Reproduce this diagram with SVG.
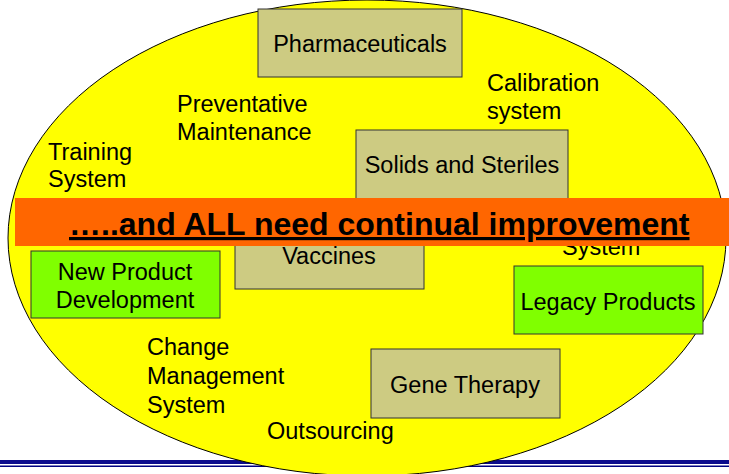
<svg xmlns="http://www.w3.org/2000/svg" width="729" height="474" viewBox="0 0 729 474">
<style>
text{font-family:"Liberation Sans",Arial,sans-serif;font-size:23.5px;fill:#000}
.c{text-anchor:middle}
.tan{fill:#CDCB82;stroke:#333;stroke-width:1}
.grn{fill:#80FF00;stroke:#333;stroke-width:1}
.ban{font-size:32px;font-weight:bold;text-decoration:underline}
</style>
<rect width="729" height="474" fill="#fff"/>
<g id="footer-lines">
<rect x="0" y="460" width="729" height="4" fill="#0B0B8C"/>
<rect x="0" y="465.5" width="729" height="1.5" fill="#000080"/>
</g>
<g id="ellipse">
<ellipse cx="367" cy="238" rx="359" ry="238" fill="#FFFF00" stroke="#000" stroke-width="1"/>
</g>
<g id="labels">
<text x="487" y="91">Calibration</text>
<text x="487" y="119">system</text>
<text x="177" y="112">Preventative</text>
<text x="177" y="140">Maintenance</text>
<text x="48" y="160">Training</text>
<text x="48" y="187">System</text>
<text x="562" y="255">System</text>
<text x="147" y="355">Change</text>
<text x="147" y="384">Management</text>
<text x="147" y="413">System</text>
<text x="267" y="439">Outsourcing</text>
</g>
<g id="pharmaceuticals">
<rect class="tan" x="258" y="9" width="204" height="68"/>
<text class="c" x="360" y="52">Pharmaceuticals</text>
</g>
<g id="solids">
<rect class="tan" x="356" y="130" width="212" height="85"/>
<text class="c" x="462" y="173">Solids and Steriles</text>
</g>
<g id="vaccines">
<rect class="tan" x="235" y="215" width="189" height="74"/>
<text class="c" x="329" y="264">Vaccines</text>
</g>
<g id="new-product">
<rect class="grn" x="31" y="251" width="189" height="67"/>
<text class="c" x="125" y="280">New Product</text>
<text class="c" x="125" y="308">Development</text>
</g>
<g id="legacy">
<rect class="grn" x="514" y="266" width="189" height="68"/>
<text class="c" x="608" y="310">Legacy Products</text>
</g>
<g id="gene-therapy">
<rect class="tan" x="371" y="349" width="189" height="69"/>
<text class="c" x="465" y="393">Gene Therapy</text>
</g>
<g id="banner">
<rect x="15" y="198" width="714" height="48" fill="#FF6600"/>
<text class="ban" x="69" y="235">…..and ALL need continual improvement</text>
</g>
</svg>
